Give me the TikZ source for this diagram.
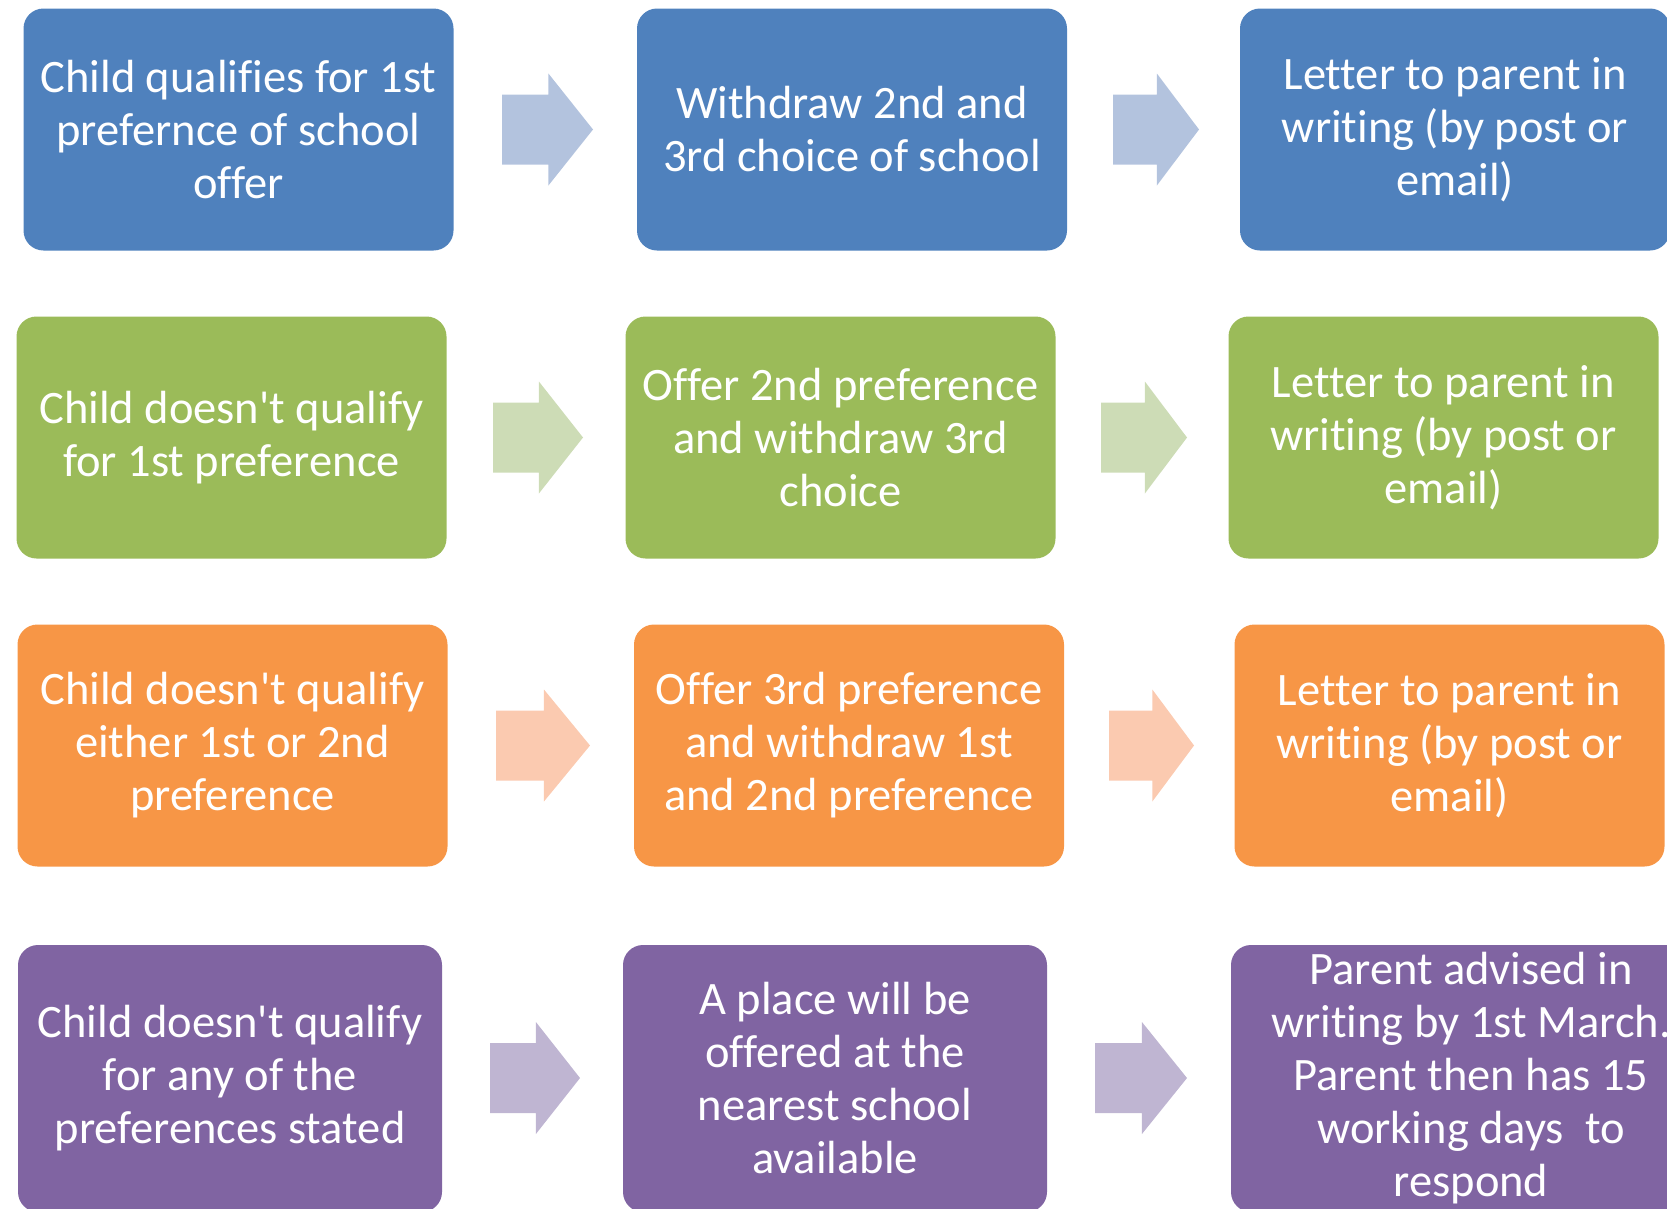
\documentclass[tikz,border=0pt]{standalone}
\usepackage{fontspec}
\setmainfont{Carlito}[Ligatures={NoCommon}]
\definecolor{cblue}{HTML}{4F81BD}
\definecolor{cgreen}{HTML}{9BBB59}
\definecolor{corange}{HTML}{F79646}
\definecolor{cpurple}{HTML}{8064A2}
\definecolor{ablue}{HTML}{B3C3DE}
\definecolor{agreen}{HTML}{CDDCB6}
\definecolor{aorange}{HTML}{FBCAB0}
\definecolor{apurple}{HTML}{BFB5D2}
\newcommand\blockarr[4]{%
  \fill[#4] (#1,#2) ++(0,-35) -- ++({0.51*#3},0) -- ++(0,-21)
    -- ++({0.49*#3},56) -- ++({-0.49*#3},56) -- ++(0,-21)
    -- ++({-0.51*#3},0) -- cycle;}
\newcommand\aps{\textquotesingle}
\begin{document}
\begin{tikzpicture}[x=1pt,y=-1pt,
  box/.style={rectangle, rounded corners=20pt, inner sep=0pt, text=white,
    align=center, font=\fontsize{46.5}{53}\selectfont, minimum height=242pt, minimum width=430pt},
  rfour/.style={minimum height=267pt, minimum width=424pt}]
\useasboundingbox (0,0) rectangle (1667,1208);
\clip (0,0) rectangle (1667,1208);
% row 1
\node[box, fill=cblue] (b11) at (238.5,129.5) {Child qualifies for 1st\\prefernce of school\\offer};
\node[box, fill=cblue] (b12) at (852,129.5) {Withdraw 2nd and\\3rd choice of school};
\node[box, fill=cblue] (b13) at (1455,129.5) {Letter to parent in\\writing (by post or\\email)};
% row 2
\node[box, fill=cgreen] (b21) at (231.5,437.5) {Child doesn\aps t qualify\\for 1st preference};
\node[box, fill=cgreen] (b22) at (840.5,437.5) {Offer 2nd preference\\and withdraw 3rd\\choice};
\node[box, fill=cgreen] (b23) at (1443.5,437.5) {Letter to parent in\\writing (by post or\\email)};
% row 3
\node[box, fill=corange] (b31) at (232.5,745.5) {Child doesn\aps t qualify\\either 1st or 2nd\\preference};
\node[box, fill=corange] (b32) at (849,745.5) {Offer 3rd preference\\and withdraw 1st\\and 2nd preference};
\node[box, fill=corange] (b33) at (1449.5,745.5) {Letter to parent in\\writing (by post or\\email)};
% row 4
\node[box, rfour, fill=cpurple] (b41) at (230,1078.5) {Child doesn\aps t qualify\\for any of the\\preferences stated};
\node[box, rfour, fill=cpurple] (b42) at (835,1078.5) {A place will be\\offered at the\\nearest school\\available};
\node[box, rfour, minimum width=480pt, fill=cpurple] (b43) at (1471,1078.5) {Parent advised in\\writing by 1st March.\\Parent then has 15\\working days\ \ to\\respond};
% arrows
\blockarr{502}{129.5}{91}{ablue}
\blockarr{1113}{129.5}{86}{ablue}
\blockarr{493}{437.5}{90}{agreen}
\blockarr{1101}{437.5}{86}{agreen}
\blockarr{496}{745.5}{94}{aorange}
\blockarr{1109}{745.5}{85}{aorange}
\blockarr{490}{1078}{90}{apurple}
\blockarr{1095}{1078}{92}{apurple}
\end{tikzpicture}
\end{document}
